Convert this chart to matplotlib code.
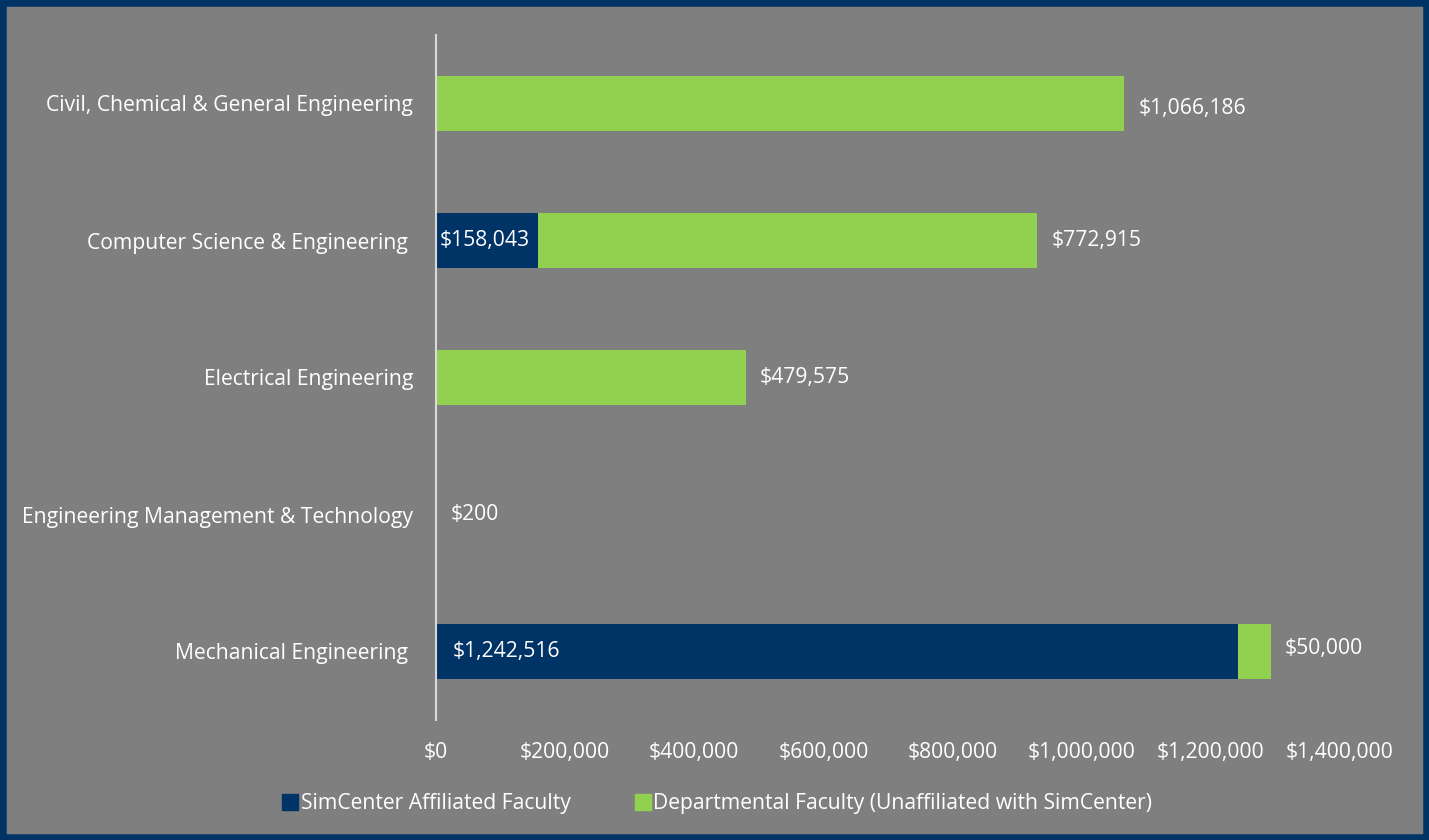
import matplotlib
matplotlib.use("Agg")
import matplotlib.pyplot as plt
from matplotlib.patches import Rectangle
from matplotlib.lines import Line2D
from matplotlib.ticker import FuncFormatter

plt.rcParams['font.family'] = ['Open Sans', 'DejaVu Sans']

categories = ["Civil, Chemical & General Engineering",
              "Computer Science & Engineering ",
              "Electrical Engineering",
              "Engineering Management & Technology",
              "Mechanical Engineering "]
affiliated = [0, 158043, 0, 0, 1242516]
departmental = [1066186, 772915, 479575, 200, 50000]
series_names = ["SimCenter Affiliated Faculty",
                "Departmental Faculty (Unaffiliated with SimCenter)"]
xticks = [0, 200000, 400000, 600000, 800000, 1000000, 1200000, 1400000]

navy = "#003366"
green = "#92D050"
bg = "#7F7F7F"
txt = "#FFFFFF"
fs = 15.2

fig = plt.figure(figsize=(14.29, 8.4), dpi=100, facecolor=bg)
fig.patches.append(Rectangle((0, 0), 1, 1, transform=fig.transFigure,
                             fill=False, edgecolor="#003366", linewidth=9, zorder=10))
W, H = 1429, 840
ax = fig.add_axes([436 / W, 1 - 720 / H, (1340 - 436) / W, (720 - 35) / H])
ax.set_facecolor(bg)

y = list(range(len(categories)))
ax.barh(y, affiliated, height=0.4, color=navy, label=series_names[0])
ax.barh(y, departmental, left=affiliated, height=0.4, color=green, label=series_names[1])

ax.set_xlim(0, 1400000)
ax.set_ylim(len(categories) - 0.5, -0.5)
ax.set_yticks(y)
ax.set_yticklabels(categories, fontsize=fs, color=txt)
ax.set_xticks(xticks)
ax.xaxis.set_major_formatter(FuncFormatter(lambda v, p: "${:,.0f}".format(v)))
ax.tick_params(axis='x', length=0, pad=16, labelsize=fs, labelcolor=txt)
ax.tick_params(axis='y', length=0, pad=16.5)
for s in ['top', 'right', 'bottom']:
    ax.spines[s].set_visible(False)
ax.spines['left'].set_color("#D9D9D9")
ax.spines['left'].set_linewidth(1.5)

offset = 22000
dy = [0.04, 0.0, 0.0, 0.0, -0.02]
for i in y:
    a = affiliated[i]
    d = departmental[i]
    if a > 0:
        ax.text(6000 if a < 200000 else 26000, i, "${:,.0f}".format(a), va='center', ha='left',
                fontsize=fs, color=txt)
    ax.text(a + d + offset, i + dy[i], "${:,.0f}".format(d),
            va='center', ha='left', fontsize=fs, color=txt)

handles = [Line2D([], [], marker='s', linestyle='none', markersize=11, color=navy),
           Line2D([], [], marker='s', linestyle='none', markersize=11, color=green)]
fig.legend(handles, series_names, loc='center', bbox_to_anchor=(716 / W, 1 - 804 / H),
           ncol=2, frameon=False, fontsize=fs, labelcolor=txt, handletextpad=0.0,
           columnspacing=2.9, handlelength=1.0)

fig.savefig("out.png", dpi=100, facecolor=bg)
